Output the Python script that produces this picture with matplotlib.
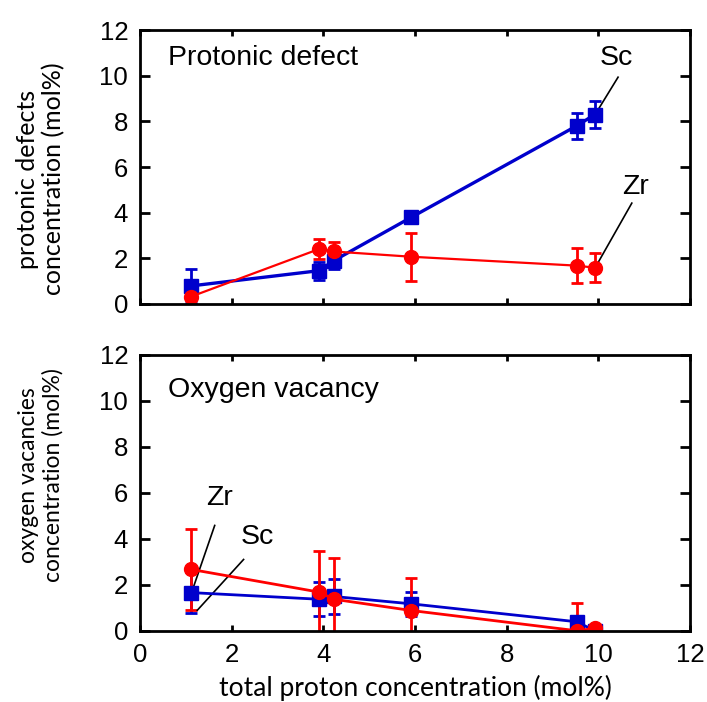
import matplotlib
matplotlib.use("Agg")
import matplotlib.pyplot as plt

# ---- data ----
x_vals = [1.11, 3.91, 4.23, 5.92, 9.53, 9.92]

sc_proton = [0.79, 1.46, 1.90, 3.80, 7.81, 8.30]
sc_proton_err = [0.75, 0.40, 0.37, 0.10, 0.58, 0.59]
zr_proton = [0.32, 2.41, 2.30, 2.07, 1.68, 1.59]
zr_proton_err = [0.0, 0.42, 0.42, 1.05, 0.78, 0.64]

sc_vac = [1.66, 1.37, 1.49, 1.17, 0.39, 0.0]
sc_vac_err = [0.90, 0.73, 0.74, 0.52, 0.10, 0.05]
zr_vac = [2.67, 1.68, 1.37, 0.88, 0.0, 0.10]
zr_vac_err = [1.75, 1.80, 1.78, 1.40, 1.20, 0.15]

ticks = [0, 2, 4, 6, 8, 10, 12]

BLUE = "#0000CC"
RED = "#FF0000"
LABELFONT = "Lato"
plt.rcParams["font.family"] = ["Liberation Sans", "DejaVu Sans"]

fig = plt.figure(figsize=(7.07, 7.02), dpi=100)
ax1 = fig.add_axes([0.198, 0.567, 0.778, 0.390])
ax2 = fig.add_axes([0.198, 0.1015, 0.778, 0.393])


def style(ax, show_x):
    ax.set_xlim(0, 12)
    ax.set_ylim(0, 12)
    ax.set_xticks(ticks)
    ax.set_yticks(ticks)
    for s in ax.spines.values():
        s.set_linewidth(2.0)
    ax.tick_params(axis="both", direction="in", top=True, right=True,
                   width=2.0, labelsize=18.5)
    ax.tick_params(axis="y", length=7, pad=8.5)
    ax.tick_params(axis="x", length=4.5, pad=9)
    if not show_x:
        ax.tick_params(axis="x", labelbottom=False)


def series(ax, y, e, color, marker, lw, ms):
    ax.errorbar(x_vals, y, yerr=e, color=color, marker=marker, ms=ms,
                lw=lw, elinewidth=2.0, capsize=4, capthick=2.0,
                clip_on=True)


style(ax1, False)
series(ax1, sc_proton, sc_proton_err, BLUE, "s", 2.4, 10)
series(ax1, zr_proton, zr_proton_err, RED, "o", 1.6, 10)
ax1.text(0.61, 10.77, "Protonic defect", fontsize=20.5,
         va="center", ha="left")
ax1.text(10.4, 10.77, "Sc", fontsize=20.5, va="center", ha="center")
ax1.plot([10.43, 9.99], [9.94, 8.5], color="black", lw=1.2)
ax1.text(10.8, 5.12, "Zr", fontsize=20.5, va="center", ha="center")
ax1.plot([10.73, 9.99], [4.42, 1.8], color="black", lw=1.2)
ax1.set_ylabel("protonic defects\nconcentration (mol%)", fontsize=18,
               family=LABELFONT, linespacing=1.15, va="center")
ax1.yaxis.set_label_coords(-0.18, 0.456)

style(ax2, True)
series(ax2, sc_vac, sc_vac_err, BLUE, "s", 2.0, 10)
series(ax2, zr_vac, zr_vac_err, RED, "o", 2.0, 10)
ax2.text(0.61, 10.48, "Oxygen vacancy", fontsize=20.5,
         va="center", ha="left")
ax2.text(1.73, 5.77, "Zr", fontsize=20.5, va="center", ha="center")
ax2.plot([1.63, 1.17], [4.58, 1.92], color="black", lw=1.2)
ax2.text(2.56, 4.06, "Sc", fontsize=20.5, va="center", ha="center")
ax2.plot([2.26, 1.25], [3.1, 0.89], color="black", lw=1.2)
ax2.set_ylabel("oxygen vacancies\nconcentration (mol%)", fontsize=16.5,
               family=LABELFONT, linespacing=1.2, va="center")
ax2.yaxis.set_label_coords(-0.18, 0.565)
ax2.set_xlabel("total proton concentration (mol%)", fontsize=19,
               family=LABELFONT, va="baseline")
ax2.xaxis.set_label_coords(0.5, -0.237)

fig.savefig("out.png", dpi=100)
